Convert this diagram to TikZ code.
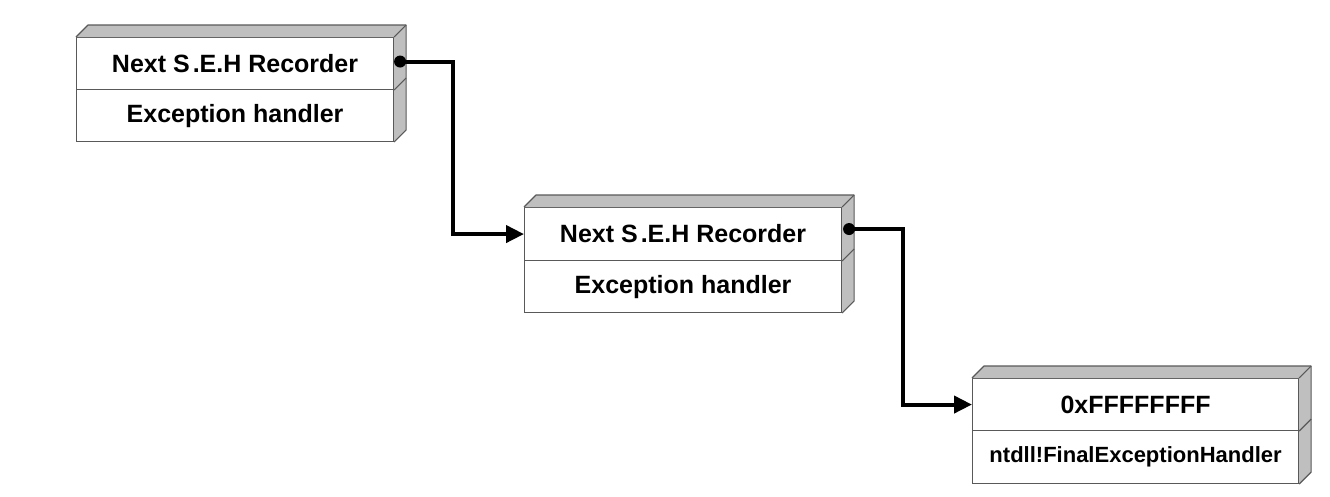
\documentclass[tikz,border=0pt]{standalone}
\usepackage{fontspec}
\setmainfont{Liberation Sans}
\usetikzlibrary{arrows.meta,calc}
\newcommand\sehsides[3]{% #1 = upper node, #2 = lower node, #3 = depth
  \fill[facegray] (#1.north west) -- ++(#3,-#3) -- ($(#1.north east)+(#3,-#3)$) -- (#1.north east) -- cycle;
  \fill[facegray] (#1.north east) -- ++(#3,-#3) -- ($(#2.south east)+(#3,-#3)$) -- (#2.south east) -- cycle;
  \draw[edge,line join=round] (#1.north west) -- ++(#3,-#3) -- ($(#1.north east)+(#3,-#3)$) -- ($(#2.south east)+(#3,-#3)$) -- (#2.south east);
  \draw[edge] (#1.north east) -- ++(#3,-#3);
  \draw[edge] (#1.south east) -- ++(#3,-#3);
}
\begin{document}
\begin{tikzpicture}[x=1pt,y=-1pt,
  edge/.style={draw=black!65,line width=1.1pt},
  facegray/.style={fill=black!25},
  cell/.style={edge,fill=white,rectangle,anchor=north west,inner sep=0pt,
    font=\fontsize{25}{29}\selectfont\bfseries},
  conn/.style={line width=4pt,-{Triangle[length=18pt,width=17pt]}},
  dotmark/.style={fill=black}]
\useasboundingbox (0,0) rectangle (1330,496);
% box 1
\node[cell,minimum width=317pt,minimum height=52pt] (b1a) at (76,37) {Next S\kern3pt.E.H Recorder};
\node[cell,minimum width=317pt,minimum height=52pt] (b1b) at (76,89) {Exception handler};
\sehsides{b1a}{b1b}{12}
% box 2
\node[cell,minimum width=317pt,minimum height=53pt] (b2a) at (524,207) {Next S\kern3pt.E.H Recorder};
\node[cell,minimum width=317pt,minimum height=52pt] (b2b) at (524,260) {Exception handler};
\sehsides{b2a}{b2b}{12}
% box 3
\node[cell,minimum width=326pt,minimum height=52pt] (b3a) at (972,378) {0xFFFFFFFF};
\node[cell,minimum width=326pt,minimum height=53pt,font=\fontsize{22}{26}\selectfont\bfseries] (b3b) at (972,430) {ntdll!FinalExceptionHandler};
\sehsides{b3a}{b3b}{12}
% connectors
\coordinate (d1) at ($(b1a.east)+(6,-2)$);
\coordinate (v1) at (453,0);
\coordinate (d2) at ($(b2a.east)+(7,-5)$);
\coordinate (v2) at (903,0);
\draw[conn] (d1) -- (d1 -| v1) |- (b2a.west);
\draw[conn] (d2) -- (d2 -| v2) |- (b3a.west);
\fill[dotmark] (d1) circle (6pt);
\fill[dotmark] (d2) circle (6pt);
\end{tikzpicture}
\end{document}
